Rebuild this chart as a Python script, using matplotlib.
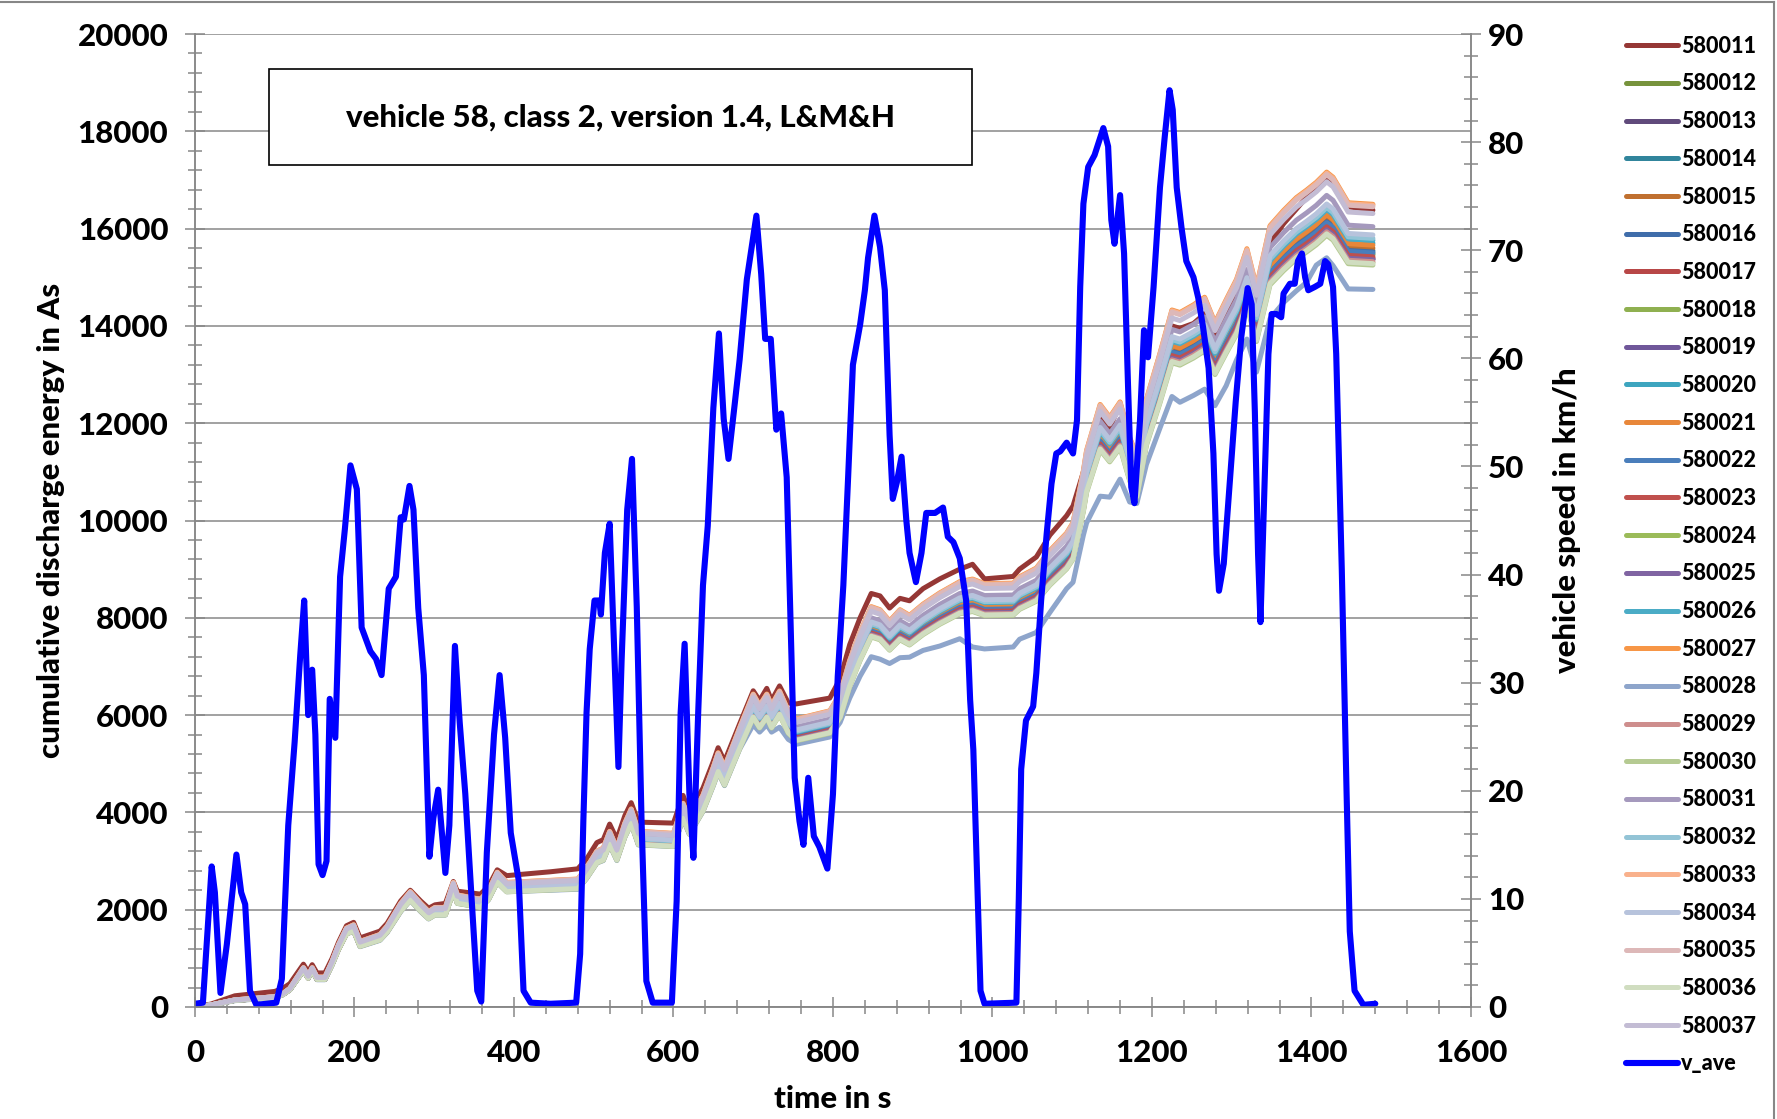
import numpy as np
import matplotlib
matplotlib.use('Agg')
import matplotlib.pyplot as plt
from matplotlib.ticker import MultipleLocator
from matplotlib.patches import Rectangle
from matplotlib.lines import Line2D

plt.rcParams['font.family'] = ['Lato', 'DejaVu Sans']
plt.rcParams['font.weight'] = 'black'

# --- discharge curves, time grid in s
t_e = [0, 20, 50, 100, 110, 119, 136, 142, 147, 153, 163, 172, 180, 190, 199, 207,
       232, 241, 258, 270, 283, 293, 301, 314, 324, 329, 358, 368, 379, 391, 446,
       480, 491, 504, 512, 520, 529, 539, 547, 556, 600, 612, 620, 637, 650, 656,
       664, 683, 700, 708, 717, 723, 733, 744, 754, 796, 809, 821, 834, 848, 859,
       871, 884, 896, 913, 934, 959, 975, 990, 1026, 1034, 1055, 1072, 1093, 1101,
       1114, 1118, 1135, 1147, 1160, 1172, 1181, 1193, 1210, 1225, 1235, 1252, 1266,
       1279, 1293, 1306, 1319, 1331, 1348, 1365, 1381, 1394, 1406, 1419, 1427, 1446,
       1477]

# middle of the bundle (As)
e_base = [0, 40, 140, 200, 260, 365, 770, 610, 770, 585, 585, 895, 1220, 1545, 1610, 1285,
          1420, 1585, 2030, 2260, 2030, 1870, 1950, 1950, 2440, 2195, 2110, 2275, 2640, 2440, 2480,
          2505, 2725, 3055, 3110, 3440, 3110, 3600, 3880, 3440, 3400, 3990, 3660, 4150, 4700, 4980,
          4700, 5470, 6130, 5910, 6130, 5910, 6190, 5800, 5640, 5800, 6130, 6790, 7340, 7840, 7780,
          7560, 7780, 7670, 7890, 8110, 8330, 8380, 8290, 8300, 8425, 8596, 8938, 9281, 9486,
          10500, 10900, 11800, 11550, 11850, 11150, 10800, 11900, 12800, 13650, 13600, 13750, 13900,
          13400, 13850, 14250, 14850, 14100, 15300, 15600, 15850, 16000, 16150, 16350, 16250, 15750,
          15720]

# cell 580011 runs above the bundle most of the cycle
e_580011 = [0, 60, 230, 320, 380, 480, 880, 720, 870, 700, 700, 1000, 1330, 1670, 1740, 1420,
            1560, 1720, 2180, 2400, 2180, 2030, 2100, 2130, 2580, 2380, 2320, 2480, 2820, 2700, 2780,
            2840, 3040, 3380, 3440, 3760, 3450, 3930, 4200, 3800, 3780, 4350, 4000, 4500, 5050, 5330,
            5050, 5820, 6500, 6300, 6550, 6300, 6600, 6250, 6230, 6350, 6750, 7450, 8000, 8500, 8450,
            8200, 8400, 8350, 8600, 8800, 9000, 9100, 8800, 8850, 9000, 9250, 9700, 10100, 10300,
            11000, 11300, 12100, 11900, 12400, 11600, 11300, 12300, 13100, 14000, 13950, 14050, 14250,
            13750, 14200, 14650, 15150, 14500, 15700, 16100, 16400, 16650, 16800, 17050, 16950, 16450,
            16380]

# cell 580028 is the low one
e_580028 = [0, 35, 130, 190, 250, 350, 740, 590, 740, 560, 560, 860, 1180, 1500, 1560, 1240,
            1370, 1530, 1960, 2190, 1960, 1810, 1890, 1890, 2370, 2130, 2050, 2200, 2560, 2370, 2400,
            2420, 2640, 2960, 3010, 3330, 3010, 3490, 3760, 3330, 3300, 3860, 3550, 4020, 4550, 4820,
            4550, 5300, 5800, 5650, 5800, 5650, 5750, 5500, 5400, 5550, 5850, 6350, 6800, 7200, 7150,
            7060, 7180, 7190, 7330, 7420, 7570, 7400, 7360, 7400, 7560, 7700, 8110, 8600, 8730,
            9700, 9950, 10500, 10480, 10850, 10380, 10350, 11150, 11900, 12550, 12430, 12570, 12700,
            12360, 12770, 13300, 13730, 13050, 14150, 14480, 14720, 14900, 15250, 15400, 15240, 14760,
            14750]

cells = ['580011', '580012', '580013', '580014', '580015', '580016', '580017', '580018',
         '580019', '580020', '580021', '580022', '580023', '580024', '580025', '580026',
         '580027', '580028', '580029', '580030', '580031', '580032', '580033', '580034',
         '580035', '580036', '580037']

# end values at t = 1477 s (As), the rest of each curve follows the bundle shape
e_end = [16380, 15460, 15370, 15550, 15600, 15520, 15400, 15480,
         15380, 15700, 15660, 15500, 15420, 15300, 15360, 15760,
         16500, 14750, 15320, 15250, 16040, 15800, 16480, 15870,
         16450, 15280, 16310]

cell_colors = ['#953735', '#77933C', '#604A7B', '#31859C', '#C0702F', '#3F6DAA', '#B84747',
               '#8FB050', '#70579A', '#3DA5BF', '#E8873A', '#4A7EBB', '#C0504D', '#9BBB59',
               '#8064A2', '#4BACC6', '#F79646', '#8EA5CB', '#CE8E8D', '#B5CA92', '#A599BD',
               '#93C4D6', '#F9B18C', '#B7C3DC', '#DDB8B8', '#D0DDC0', '#C3BCD4']

# --- average vehicle speed
t_v = [0, 10, 14, 21, 25, 32, 40, 52, 58, 63, 69, 77, 102, 109, 117, 125, 132, 137, 142, 147,
       151, 155, 160, 165, 169, 176, 182, 188, 195, 203, 209, 220, 227, 234, 243, 252, 258, 262,
       269, 274, 280, 287, 294, 299, 305, 314, 319, 326, 332, 339, 347, 354, 359, 366, 375, 382,
       389, 396, 406, 412, 421, 446, 478, 483, 487, 491, 495, 501, 507, 509, 514, 520, 525, 531,
       535, 542, 548, 554, 560, 566, 574, 598, 604, 609, 614, 620, 625, 631, 637, 643, 650, 657,
       663, 669, 677, 683, 692, 704, 710, 715, 722, 729, 735, 742, 748, 752, 758, 763, 769, 776,
       783, 793, 800, 806, 813, 819, 825, 834, 840, 844, 852, 859, 865, 871, 875, 880, 886, 892,
       896, 904, 911, 917, 928, 938, 944, 951, 959, 967, 972, 976, 985, 990, 1030, 1033, 1036,
       1042, 1051, 1055, 1061, 1068, 1074, 1080, 1085, 1093, 1101, 1106, 1110, 1114, 1120, 1128,
       1139, 1145, 1149, 1153, 1160, 1165, 1170, 1174, 1178, 1185, 1190, 1195, 1202, 1210, 1216,
       1222, 1226, 1231, 1237, 1243, 1252, 1258, 1264, 1271, 1277, 1281, 1284, 1290, 1296, 1305,
       1312, 1320, 1325, 1329, 1333, 1336, 1341, 1346, 1350, 1356, 1362, 1365, 1373, 1379, 1383,
       1388, 1392, 1396, 1404, 1411, 1417, 1421, 1427, 1431, 1438, 1444, 1448, 1454, 1465, 1480]
v_ave = [0.3, 0.4, 5, 13, 10.6, 1.3, 5.8, 14.1, 10.6, 9.5, 1.5, 0.2, 0.4, 2.6, 16.8, 24.5, 32.5,
         37.6, 27, 31.2, 25.2, 13.2, 12.2, 13.5, 28.5, 24.9, 39.8, 44.2, 50.1, 47.9, 35.1, 32.9,
         32.2, 30.7, 38.7, 39.8, 45.3, 45.1, 48.2, 46, 36.9, 30.7, 13.9, 17.5, 20.1, 12.4, 16.8,
         33.4, 26.3, 19.7, 9.9, 1.5, 0.5, 14.3, 25.2, 30.7, 24.9, 16.1, 11.7, 1.5, 0.4, 0.3, 0.4,
         4.9, 17.2, 27.2, 33.1, 37.6, 37.6, 36.3, 42, 44.7, 34.6, 22.2, 32.1, 46, 50.7, 37, 17.2,
         2.4, 0.4, 0.4, 9.8, 27.2, 33.6, 19.7, 13.8, 27.2, 39, 44.5, 55.4, 62.3, 54.4, 50.7, 55.9,
         59.9, 67.3, 73.2, 67.8, 61.8, 61.8, 53.4, 54.9, 49, 32.1, 21.2, 17.2, 15, 21.2, 15.8,
         14.8, 12.8, 19.7, 30.6, 39, 49, 59.4, 63.1, 66.3, 69.3, 73.2, 70.3, 66.3, 52.9, 47, 48.5,
         50.9, 45, 42, 39.3, 42, 45.7, 45.7, 46.2, 43.5, 43, 41.5, 37.6, 28.4, 23.8, 1.5, 0.3, 0.4,
         10, 22, 26.5, 27.8, 30.9, 37.6, 43.8, 48.4, 51.2, 51.4, 52.2, 51.2, 54.3, 66.6, 74.3,
         77.7, 78.8, 81.3, 79.6, 72.8, 70.6, 75.1, 69.7, 57.4, 48.1, 46.6, 54.3, 62.6, 60.1, 66.6,
         75.8, 80.5, 84.8, 83, 75.8, 72.1, 69, 67.5, 65.6, 62.9, 59.1, 51.2, 41.9, 38.5, 41, 47,
         56, 62, 66.5, 65, 55, 41.9, 35.6, 48.1, 60.4, 64.1, 64.1, 63.8, 66, 66.9, 66.9, 69, 69.7,
         67.5, 66.3, 66.6, 66.9, 69, 68.7, 66.6, 60.4, 40.4, 19.8, 7, 1.5, 0.2, 0.3]

title = 'vehicle 58, class 2, version 1.4, L&M&H'
gray = '#878787'
fs = 22.5

fig = plt.figure(figsize=(17.77, 11.19), dpi=100)
ax = fig.add_axes([0.1097, 0.1001, 0.7181, 0.8695])
ax2 = ax.twinx()

base = np.array(e_base, dtype=float)
handles = []
for name, end, col in zip(cells, e_end, cell_colors):
    if name == '580011':
        y = np.array(e_580011, dtype=float)
    elif name == '580028':
        y = np.array(e_580028, dtype=float)
    else:
        y = base * end / base[-1]
    ln, = ax.plot(t_e, y, color=col, lw=3.6, solid_joinstyle='round',
                  solid_capstyle='round', label=name)
    handles.append(ln)

lv, = ax2.plot(t_v, v_ave, color='#0000FF', lw=4.4, solid_joinstyle='round',
               solid_capstyle='round', label='v_ave')
handles.append(lv)

ax.set_xlim(0, 1600)
ax.set_ylim(0, 20000)
ax2.set_ylim(0, 90)
ax.xaxis.set_major_locator(MultipleLocator(200))
ax.xaxis.set_minor_locator(MultipleLocator(40))
ax.yaxis.set_major_locator(MultipleLocator(2000))
ax.yaxis.set_minor_locator(MultipleLocator(400))
ax2.yaxis.set_major_locator(MultipleLocator(10))
ax2.yaxis.set_minor_locator(MultipleLocator(2))

ax.grid(axis='y', which='major', color=gray, lw=1.1)
ax.set_axisbelow(True)

for a in (ax, ax2):
    for s in a.spines.values():
        s.set_color(gray)
        s.set_linewidth(1.1)
    a.spines['top'].set_visible(False)
    a.tick_params(which='major', direction='inout', length=14.4, width=1.1, color=gray,
                  labelsize=fs)
    a.tick_params(which='minor', direction='inout', length=10.6, width=1.1, color=gray)
ax.tick_params(axis='y', pad=12)
ax.tick_params(axis='x', pad=16)
ax2.tick_params(axis='y', pad=5)

ax.text(0.5, -0.0946, 'time in s', transform=ax.transAxes, ha='center', va='center',
        fontsize=fs)
ax.text(-0.1129, 0.5, 'cumulative discharge energy in As', transform=ax.transAxes,
        ha='center', va='center', rotation=90, fontsize=fs)
ax.text(1.0752, 0.5, 'vehicle speed in km/h', transform=ax.transAxes,
        ha='center', va='center', rotation=90, fontsize=fs)

# title box
ax.add_patch(Rectangle((0.058, 0.865), 0.551, 0.099, transform=ax.transAxes,
                       facecolor='white', edgecolor='black', lw=1.2, zorder=5))
ax.text(0.3335, 0.9145, title, transform=ax.transAxes, ha='center', va='center',
        fontsize=fs, zorder=6)

fig.legend(handles, [h.get_label() for h in handles], loc='upper left',
           bbox_to_anchor=(0.915, 0.968), frameon=False, fontsize=15.5,
           handlelength=2.4, handletextpad=0.15, labelspacing=0.775,
           borderpad=0, borderaxespad=0)

# chart area border (top and right edges visible)
fig.add_artist(Line2D([0, 0.9985], [0.998, 0.998], transform=fig.transFigure,
                      color=gray, lw=1.5))
fig.add_artist(Line2D([0.9985, 0.9985], [0, 0.998], transform=fig.transFigure,
                      color=gray, lw=1.5))

fig.savefig('out.png', dpi=100)
